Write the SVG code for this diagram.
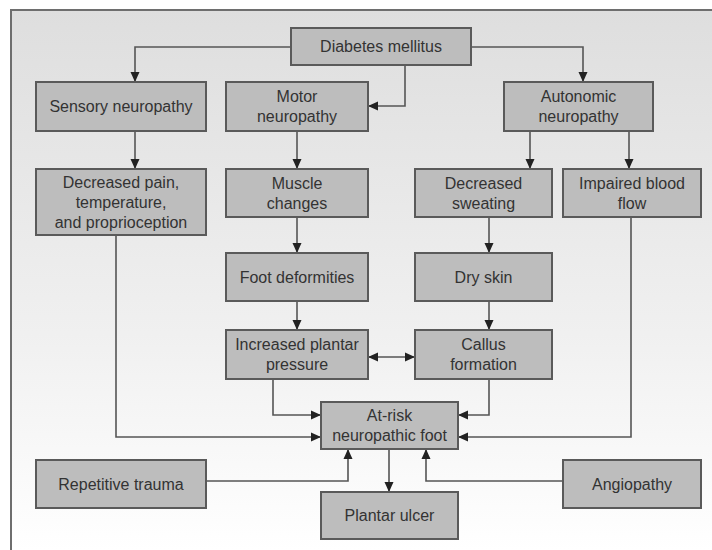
<svg xmlns="http://www.w3.org/2000/svg" width="712" height="550" viewBox="0 0 712 550">
<defs>
<linearGradient id="bg" x1="0" y1="0" x2="0" y2="1">
<stop offset="0" stop-color="#dedede"/>
<stop offset="0.6" stop-color="#f0f0f0"/>
<stop offset="1" stop-color="#ffffff"/>
</linearGradient>
<marker id="ah" markerUnits="userSpaceOnUse" markerWidth="10" markerHeight="10" viewBox="0 0 10 10" refX="10" refY="5" orient="auto-start-reverse">
<path d="M0,0.5 L10,5 L0,9.5 Z" fill="#222"/>
</marker>
<style>
.box{fill:#bdbdbd;stroke:#5a5a5a;stroke-width:2}
.t{font-family:"Liberation Sans",Arial,sans-serif;font-size:16px;fill:#333;text-anchor:middle}
.c{fill:none;stroke:#555;stroke-width:1.6}
.a{marker-end:url(#ah)}
</style>
</defs>
<rect x="0" y="0" width="712" height="550" fill="#ffffff"/>
<rect x="11" y="10" width="701" height="540" fill="url(#bg)"/>
<path d="M11,550 V10 H712" fill="none" stroke="#6e6e6e" stroke-width="2"/>

<g id="connectors">
<path class="c a" d="M291,47 H135 V82"/>
<path class="c a" d="M405,65 V106 H368"/>
<path class="c a" d="M471,47 H583 V82"/>
<path class="c a" d="M135,131 V169"/>
<path class="c a" d="M297,131 V169"/>
<path class="c a" d="M530,131 V169"/>
<path class="c a" d="M629,131 V169"/>
<path class="c a" d="M297,217 V253"/>
<path class="c a" d="M489,217 V253"/>
<path class="c a" d="M297,301 V330"/>
<path class="c a" d="M489,301 V330"/>
<path class="c a" d="M368,357 H415" marker-start="url(#ah)"/>
<path class="c a" d="M273,379 V415 H321"/>
<path class="c a" d="M116,235 V437 H321"/>
<path class="c a" d="M489,379 V415 H458"/>
<path class="c a" d="M631,217 V437 H458"/>
<path class="c a" d="M206,481 H348 V449"/>
<path class="c a" d="M563,481 H426 V449"/>
<path class="c a" d="M389,449 V492"/>
</g>

<g id="diabetes"><rect class="box" x="291" y="28" width="180" height="37"/><text class="t" x="381" y="52">Diabetes mellitus</text></g>
<g id="sensory"><rect class="box" x="36" y="82" width="170" height="49"/><text class="t" x="121" y="112">Sensory neuropathy</text></g>
<g id="motor"><rect class="box" x="226" y="82" width="142" height="49"/><text class="t" x="297" y="102">Motor</text><text class="t" x="297" y="122">neuropathy</text></g>
<g id="autonomic"><rect class="box" x="504" y="82" width="149" height="49"/><text class="t" x="578.5" y="102">Autonomic</text><text class="t" x="578.5" y="122">neuropathy</text></g>
<g id="decpain"><rect class="box" x="36" y="169" width="170" height="66"/><text class="t" x="121" y="187.5">Decreased pain,</text><text class="t" x="121" y="207.5">temperature,</text><text class="t" x="121" y="227.5">and proprioception</text></g>
<g id="muscle"><rect class="box" x="226" y="169" width="142" height="48"/><text class="t" x="297" y="188.5">Muscle</text><text class="t" x="297" y="208.5">changes</text></g>
<g id="sweating"><rect class="box" x="415" y="169" width="137" height="48"/><text class="t" x="483.5" y="188.5">Decreased</text><text class="t" x="483.5" y="208.5">sweating</text></g>
<g id="blood"><rect class="box" x="563" y="169" width="138" height="48"/><text class="t" x="632" y="188.5">Impaired blood</text><text class="t" x="632" y="208.5">flow</text></g>
<g id="foot"><rect class="box" x="226" y="253" width="142" height="48"/><text class="t" x="297" y="282.5">Foot deformities</text></g>
<g id="dryskin"><rect class="box" x="415" y="253" width="137" height="48"/><text class="t" x="483.5" y="282.5">Dry skin</text></g>
<g id="pressure"><rect class="box" x="226" y="330" width="142" height="49"/><text class="t" x="297" y="350">Increased plantar</text><text class="t" x="297" y="370">pressure</text></g>
<g id="callus"><rect class="box" x="415" y="330" width="137" height="49"/><text class="t" x="483.5" y="350">Callus</text><text class="t" x="483.5" y="370">formation</text></g>
<g id="atrisk"><rect class="box" x="321" y="402" width="137" height="47"/><text class="t" x="389.5" y="421">At-risk</text><text class="t" x="389.5" y="441">neuropathic foot</text></g>
<g id="ulcer"><rect class="box" x="321" y="492" width="137" height="47"/><text class="t" x="389.5" y="521">Plantar ulcer</text></g>
<g id="trauma"><rect class="box" x="36" y="460" width="170" height="48"/><text class="t" x="121" y="489.5">Repetitive trauma</text></g>
<g id="angio"><rect class="box" x="563" y="460" width="138" height="48"/><text class="t" x="632" y="489.5">Angiopathy</text></g>
</svg>
